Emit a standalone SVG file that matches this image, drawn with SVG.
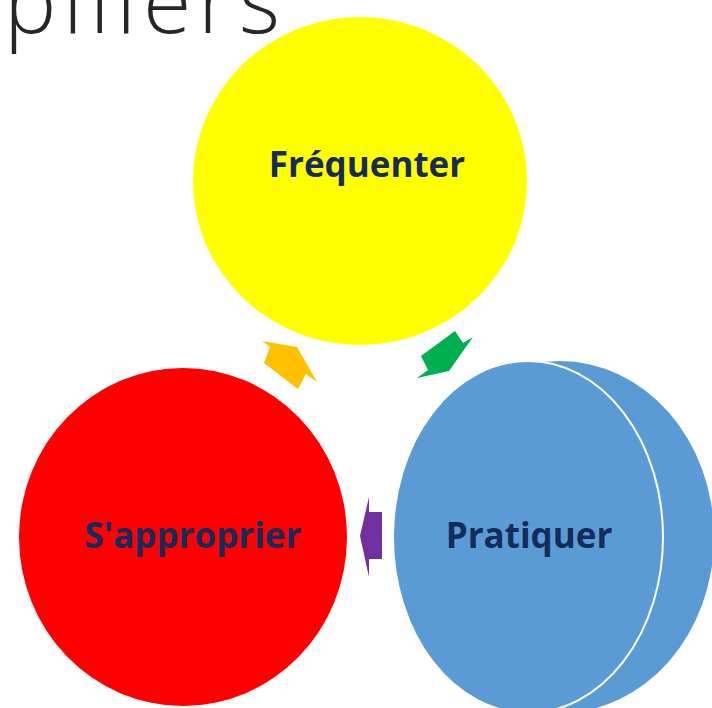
<svg xmlns="http://www.w3.org/2000/svg" width="712" height="708" viewBox="0 0 712 708">
  <style>
    .lbl { font-family: "Open Sans", "Liberation Sans", sans-serif; font-weight: 700; font-size: 35px; fill: #142B5C; text-anchor: middle; }
    .title { font-family: "Open Sans", "Liberation Sans", sans-serif; font-weight: 300; font-size: 88px; fill: #262626; }
  </style>
  <rect width="712" height="708" fill="#ffffff"/>
  <text class="title" x="4" y="33" textLength="276" lengthAdjust="spacing">piliers</text>

  <g id="connectors">
    <polygon fill="#00B050" points="473,337 449,371 417,378 428,370 421,356 455,331 463,343"/>
    <polygon fill="#7030A0" points="369,497 360,536 369,577 369,559 382,559 382,512 369,512"/>
    <polygon fill="#FFC000" points="262,341 297,347 317,382 306,374 298,389 264,363 270,347"/>
  </g>

  <g id="frequenter">
    <ellipse cx="360" cy="181" rx="167" ry="164" fill="#FFFF00"/>
    <text class="lbl" x="367" y="177">Fréquenter</text>
  </g>

  <g id="sapproprier">
    <ellipse cx="183" cy="537" rx="164" ry="169" fill="#FF0000"/>
    <text class="lbl" x="193" y="548">S'approprier</text>
  </g>

  <g id="pratiquer">
    <ellipse cx="560" cy="537" rx="154" ry="176" fill="#5B9BD5"/>
    <ellipse cx="528" cy="537" rx="135" ry="176" fill="#5B9BD5" stroke="#ffffff" stroke-width="2"/>
    <text class="lbl" x="529" y="548">Pratiquer</text>
  </g>
</svg>
